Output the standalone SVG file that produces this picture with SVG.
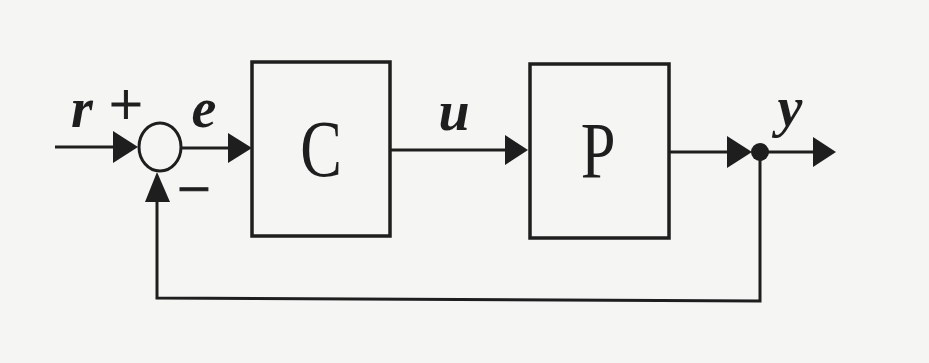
<svg xmlns="http://www.w3.org/2000/svg" width="929" height="363" viewBox="0 0 929 363">
<defs>
<style>
.ln{fill:none;stroke:#1e1e1e;stroke-width:3}
.box{fill:none;stroke:#1e1e1e;stroke-width:3.5}
.var{font-family:"Liberation Serif",serif;font-style:italic;font-weight:bold;font-size:56px;fill:#1e1e1e}
.sign{font-family:"Liberation Serif",serif;font-size:60px;fill:#1e1e1e;stroke:#1e1e1e;stroke-width:1}
.blk{font-family:"Liberation Serif",serif;font-size:80px;fill:#1e1e1e}
.ah{fill:#1e1e1e}
</style>
</defs>
<rect width="929" height="363" fill="#f5f5f3"/>
<g id="connectors">
<line class="ln" x1="55" y1="147" x2="120" y2="147"/>
<polygon class="ah" points="138,147 113,131 113,163"/>
<line class="ln" x1="181" y1="148" x2="232" y2="148"/>
<polygon class="ah" points="252,148 228,133 228,163"/>
<line class="ln" x1="390" y1="150" x2="510" y2="150"/>
<polygon class="ah" points="528,150 505,135 505,165"/>
<line class="ln" x1="669" y1="152" x2="735" y2="152"/>
<polygon class="ah" points="752,152 727,136 727,168"/>
<line class="ln" x1="760" y1="152" x2="818" y2="152"/>
<polygon class="ah" points="836,152 813,137 813,167"/>
<polyline class="ln" points="760,152 760,301 157,298 157,190"/>
<polygon class="ah" points="157,172 145,202 170,202"/>
<circle cx="760" cy="152" r="9" fill="#1e1e1e"/>
</g>
<g id="sum">
<ellipse cx="160" cy="147" rx="21" ry="24" fill="none" stroke="#1e1e1e" stroke-width="3"/>
<text class="sign" x="126" y="124" text-anchor="middle">+</text>
<text class="sign" x="194" y="209" text-anchor="middle">−</text>
</g>
<g id="C">
<rect class="box" x="252" y="62" width="138" height="174"/>
<text class="blk" transform="translate(321,176) scale(0.78,1)" text-anchor="middle">C</text>
</g>
<g id="P">
<rect class="box" x="530" y="64" width="139" height="174"/>
<text class="blk" transform="translate(598,178) scale(0.78,1)" text-anchor="middle">P</text>
</g>
<g id="labels">
<text class="var" x="82" y="127" text-anchor="middle">r</text>
<text class="var" x="204" y="127" text-anchor="middle">e</text>
<text class="var" x="454" y="130" text-anchor="middle">u</text>
<text class="var" x="790" y="126" text-anchor="middle">y</text>
</g>
</svg>
